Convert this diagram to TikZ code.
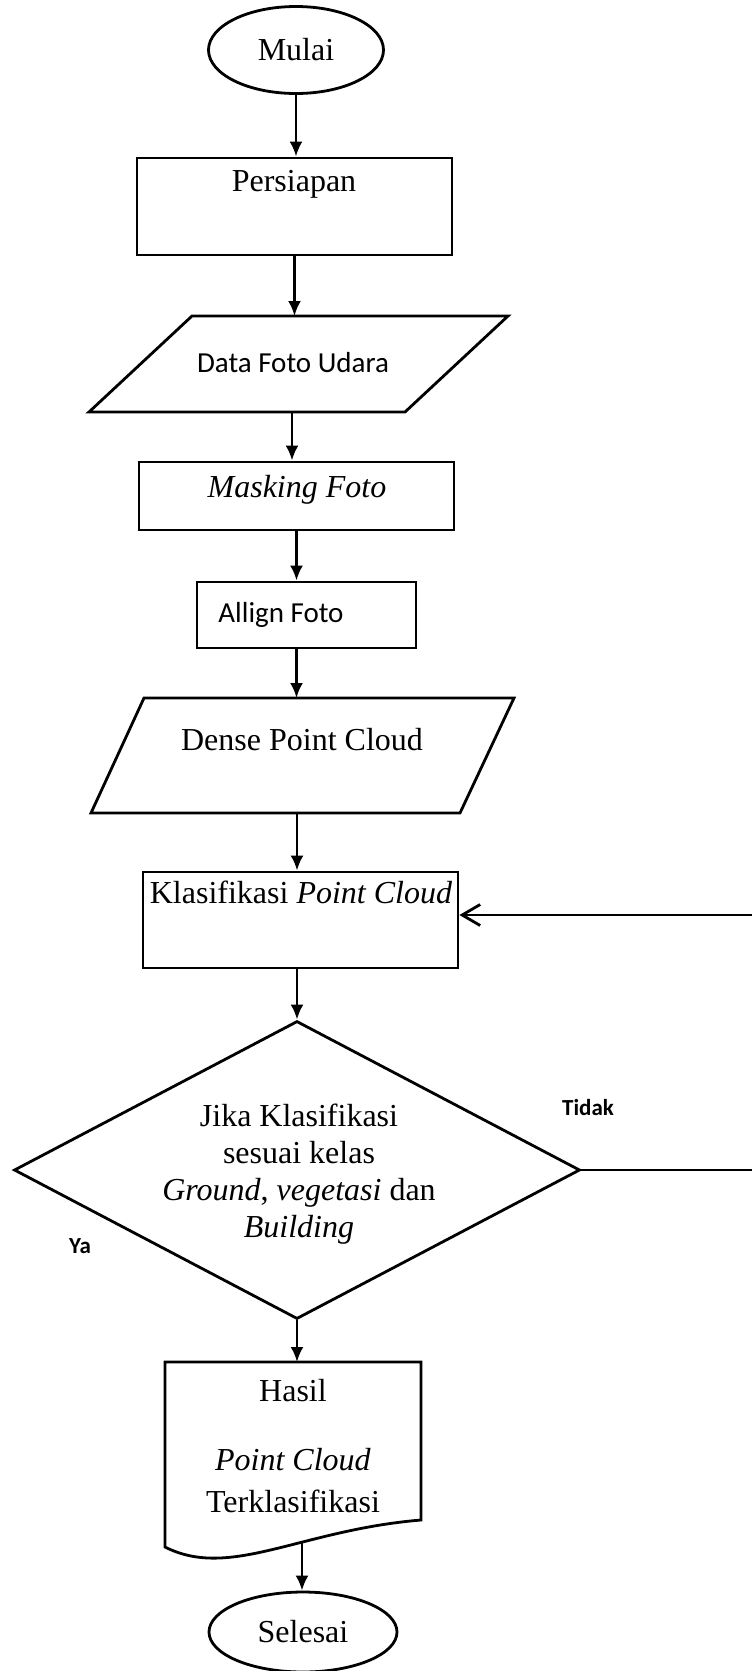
\documentclass[tikz,border=0pt]{standalone}
\usepackage{fontspec}
\setmainfont{Liberation Serif}
\newfontfamily\calibri{Carlito}
\usetikzlibrary{shapes.geometric,arrows.meta}

\begin{document}
\begin{tikzpicture}[x=1pt,y=-1pt,line width=2.8pt,>={Latex[length=15pt,width=13pt]},
	font=\fontsize{32}{37}\selectfont,
	terminal/.style={draw,ellipse,inner sep=0pt},
	proses/.style={draw,rectangle,inner sep=0pt},
	teks/.style={inner sep=0pt,anchor=base},
	sans/.style={teks,font=\calibri\fontsize{29}{34}\selectfont},
	ketbold/.style={teks,font=\calibri\bfseries\fontsize{23}{28}\selectfont}]
	\useasboundingbox (0,0) rectangle (752,1671);
	\fill[white] (0,0) rectangle (752,1671);
	\clip (0,0) rectangle (752,1671);
	% mulai - persiapan
	\node[terminal,minimum width=175pt,minimum height=87pt] (mulai) at (296,50) {Mulai};
	\node[proses,minimum width=315pt,minimum height=97pt] (persiapan) at (294.5,206.5) {};
	\node[teks] (tpersiapan) at (294,191) {Persiapan};
	% data foto udara
	\draw (192,316) -- (508,316) -- (405,412) -- (89,412) -- cycle;
	\coordinate (fotoatas) at (294.5,316);
	\coordinate (fotobawah) at (292,412);
	\node[sans] (datafoto) at (293,372) {Data Foto Udara};
	\node[proses,minimum width=315pt,minimum height=68pt] (masking) at (296.5,496) {};
	\node[teks] (tmasking) at (297,497) {\textit{Masking Foto}};
	\node[proses,minimum width=219pt,minimum height=66pt] (allign) at (306.5,615) {};
	\node[sans] (tallign) at (281,622) {Allign Foto};
	% dense point cloud
	\draw (144,698) -- (514,698) -- (460,813) -- (91,813) -- cycle;
	\coordinate (denseatas) at (296.5,698);
	\coordinate (densebawah) at (297,813);
	\node[teks] (dense) at (302,750) {Dense Point Cloud};
	\node[proses,minimum width=315pt,minimum height=96pt] (klas) at (300.5,920) {};
	\node[teks] (tklas) at (301,903) {Klasifikasi \textit{Point Cloud}};
	% cek kelas
	\node[draw,diamond,minimum width=566pt,minimum height=298pt,inner sep=0pt] (cek) at (297,1170) {};
	\node[inner sep=0pt,anchor=north,align=center] (tcek) at (299,1103) {Jika Klasifikasi\\ sesuai kelas\\ \textit{Ground}, \textit{vegetasi} dan\\ \textit{Building}};
	\node[ketbold] (tidak) at (588,1115) {Tidak};
	\node[ketbold] (ya) at (80,1253) {Ya};
	% hasil
	\draw (165,1362) -- (421,1362) -- (421,1520) .. controls (300,1530) and (230,1580) .. (165,1547) -- cycle;
	\coordinate (hasilatas) at (297,1362);
	\coordinate (hasilbawah) at (302,1543);
	\node[inner sep=0pt,anchor=north,align=center,font=\fontsize{32}{42}\selectfont] (hasil) at (293,1378) {Hasil\\[27pt]\textit{Point Cloud}\\Terklasifikasi};
	\node[terminal,minimum width=188pt,minimum height=80pt] (selesai) at (303,1632) {Selesai};
	% panah
	\draw[->] (mulai.south) -- (mulai.south |- persiapan.north);
	\draw[->] (persiapan.south) -- (fotoatas);
	\draw[->] (fotobawah) -- (fotobawah |- masking.north);
	\draw[->] (masking.south) -- (masking.south |- allign.north);
	\draw[->] (allign.south -| masking.south) -- (denseatas);
	\draw[->] (densebawah) -- (densebawah |- klas.north);
	\draw[->] (klas.south -| cek.north) -- (cek.north);
	\draw[->] (cek.south) -- (hasilatas);
	\draw[->] (hasilbawah) -- (hasilbawah |- selesai.north);
	\draw[-{Straight Barb[length=18pt,width=21pt]}] (cek.east) -- ++(220,0) |- ([yshift=5pt]klas.east);
\end{tikzpicture}
\end{document}
